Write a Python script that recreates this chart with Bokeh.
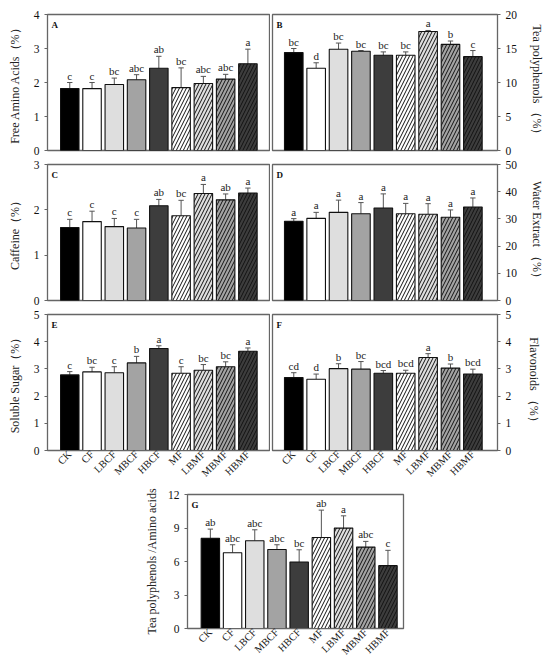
from math import pi
from bokeh.plotting import figure
from bokeh.models import ColumnDataSource, FixedTicker, Label, Range1d
from bokeh.layouts import row, column
from bokeh.core.properties import value
from bokeh.embed import file_html
from bokeh.resources import INLINE

FONT = "Liberation Serif"

treatments = ["CK", "CF", "LBCF", "MBCF", "HBCF", "MF", "LBMF", "MBMF", "HBMF"]
fills = ["#000000", "#ffffff", "#dedede", "#a3a3a3", "#3d3d3d",
         "#ffffff", "#dedede", "#a3a3a3", "#3d3d3d"]
hatches = [" ", " ", " ", " ", " ", "/", "/", "/", "/"]

amino = [1.82, 1.82, 1.94, 2.08, 2.42, 1.85, 1.97, 2.10, 2.55]
amino_sd = [0.18, 0.18, 0.19, 0.15, 0.35, 0.58, 0.21, 0.14, 0.43]
amino_sig = ["c", "c", "bc", "abc", "ab", "bc", "abc", "abc", "a"]

polyphenols = [14.4, 12.1, 14.9, 14.6, 14.0, 14.0, 17.5, 15.6, 13.8]
polyphenols_sd = [0.6, 0.8, 0.9, 0.1, 0.5, 0.5, 0.15, 0.5, 0.9]
polyphenols_sig = ["bc", "d", "bc", "bc", "bc", "bc", "a", "b", "c"]

caffeine = [1.61, 1.74, 1.63, 1.60, 2.09, 1.87, 2.36, 2.22, 2.37]
caffeine_sd = [0.18, 0.23, 0.18, 0.19, 0.14, 0.34, 0.20, 0.13, 0.11]
caffeine_sig = ["c", "c", "c", "c", "ab", "bc", "a", "ab", "a"]

water = [29.1, 30.2, 32.4, 31.9, 34.0, 31.9, 31.7, 30.6, 34.4]
water_sd = [1.0, 2.2, 4.5, 4.1, 5.2, 3.8, 3.9, 2.7, 3.3]
water_sig = ["a", "a", "a", "a", "a", "a", "a", "a", "a"]

sugar = [2.78, 2.89, 2.86, 3.22, 3.75, 2.84, 2.95, 3.08, 3.65]
sugar_sd = [0.12, 0.17, 0.22, 0.24, 0.10, 0.24, 0.21, 0.18, 0.12]
sugar_sig = ["c", "bc", "c", "b", "a", "c", "bc", "bc", "a"]

flavonoids = [2.68, 2.62, 3.01, 2.99, 2.84, 2.84, 3.42, 3.03, 2.81]
flavonoids_sd = [0.18, 0.19, 0.18, 0.28, 0.10, 0.11, 0.14, 0.15, 0.18]
flavonoids_sig = ["cd", "d", "b", "bc", "bcd", "bcd", "a", "b", "bcd"]

ratio = [8.07, 6.79, 7.86, 7.08, 5.95, 8.15, 8.99, 7.29, 5.63]
ratio_sd = [0.83, 0.71, 0.98, 0.42, 1.10, 2.45, 1.10, 0.51, 1.37]
ratio_sig = ["ab", "abc", "abc", "abc", "bc", "ab", "a", "abc", "c"]


def panel(vals, sds, sigs, tag, ylab, ymax, step, side, xr, w, h, mb, show_x,
          label_standoff):
    fh = h - mb[2] - mb[3]
    p = figure(width=w, height=h, x_range=Range1d(*xr), y_range=Range1d(0, ymax),
               y_axis_location=side, toolbar_location=None, output_backend="svg",
               min_border_left=mb[0], min_border_right=mb[1],
               min_border_top=mb[2], min_border_bottom=mb[3])
    p.grid.visible = False
    p.outline_line_color = "#666666"
    p.outline_line_width = 1.3
    xs = list(range(len(vals)))
    ups = [v + s for v, s in zip(vals, sds)]
    src = ColumnDataSource(dict(x=xs, top=vals, up=ups, fill=fills, hatch=hatches,
                                sig=sigs, cl=[x - 0.12 for x in xs],
                                cr=[x + 0.12 for x in xs]))
    p.segment(x0="x", y0="top", x1="x", y1="up", line_color="#555555",
              line_width=1, source=src)
    p.segment(x0="cl", y0="up", x1="cr", y1="up", line_color="#555555",
              line_width=1, source=src)
    p.vbar(x="x", top="top", bottom=0, width=0.83, fill_color="fill",
           line_color="#111111", line_width=1.1, hatch_pattern="hatch",
           hatch_color="#111111", hatch_scale=7, hatch_weight=1, source=src)
    p.text(x="x", y="up", text="sig", text_align="center", text_baseline="bottom",
           y_offset=-1, text_font=value(FONT), text_font_size="11px",
           text_color="#222222", source=src)
    p.add_layout(Label(x=xr[0], y=ymax - ymax * 5.0 / fh, x_offset=4, text=tag,
                       text_font=FONT, text_font_style="bold", text_font_size="9px",
                       text_baseline="top", text_color="#111111"))
    ya = p.yaxis[0]
    ya.ticker = FixedTicker(ticks=list(range(0, ymax + 1, step)))
    ya.axis_label = ylab
    ya.axis_label_text_font = FONT
    ya.axis_label_text_font_style = "normal"
    ya.axis_label_text_font_size = "12px"
    ya.axis_label_text_color = "#222222"
    ya.axis_label_standoff = label_standoff
    ya.major_label_text_font = FONT
    ya.major_label_text_font_size = "11.5px"
    ya.major_label_text_color = "#111111"
    ya.major_label_standoff = 5
    ya.major_tick_out = 3
    ya.major_tick_in = 0
    ya.minor_tick_out = 0
    ya.minor_tick_in = 0
    ya.axis_line_color = "#666666"
    ya.major_tick_line_color = "#666666"
    xa = p.xaxis[0]
    if show_x:
        xa.ticker = FixedTicker(ticks=xs)
        xa.major_label_overrides = {i: t for i, t in enumerate(treatments)}
        xa.major_label_orientation = pi / 4
        xa.major_label_text_font = FONT
        xa.major_label_text_font_size = "10.5px"
        xa.major_label_text_color = "#111111"
        xa.major_label_standoff = 2
        xa.major_tick_out = 0
        xa.major_tick_in = 0
        xa.minor_tick_out = 0
        xa.minor_tick_in = 0
        xa.axis_line_color = "#666666"
    else:
        xa.visible = False
    return p


XL = (-1.0, 8.97)
XR = (-0.95, 9.1)

pA = panel(amino, amino_sd, amino_sig, "A", "Free Amino Acids（%）", 4, 1, "left",
           XL, 270, 157, (47, 1, 14, 7), False, 9)
pB = panel(polyphenols, polyphenols_sd, polyphenols_sig, "B", "Tea polyphenols （%）",
           20, 5, "right", XR, 277, 157, (2, 50, 14, 7), False, 10)
pC = panel(caffeine, caffeine_sd, caffeine_sig, "C", "Caffeine（%）", 3, 1, "left",
           XL, 270, 150, (47, 1, 7, 7), False, 9)
pD = panel(water, water_sd, water_sig, "D", "Water Extract （%）", 50, 10, "right",
           XR, 277, 150, (2, 50, 7, 7), False, 10)
pE = panel(sugar, sugar_sd, sugar_sig, "E", "Soluble Sugar（%）", 5, 1, "left",
           XL, 270, 181, (47, 1, 7, 38), True, 9)
pF = panel(flavonoids, flavonoids_sd, flavonoids_sig, "F", "Flavonoids （%）", 5, 1,
           "right", XR, 277, 181, (2, 50, 7, 38), True, 13)
pG = panel(ratio, ratio_sd, ratio_sig, "G", "Tea polyphenols /Amino acids", 12, 3,
           "left", (-1.03, 8.7), 413, 176, (187, 10, 6, 36), True, 6)

layout = column(row(pA, pB), row(pC, pD), row(pE, pF), row(pG))

open("out.html", "w").write(file_html(layout, INLINE))
